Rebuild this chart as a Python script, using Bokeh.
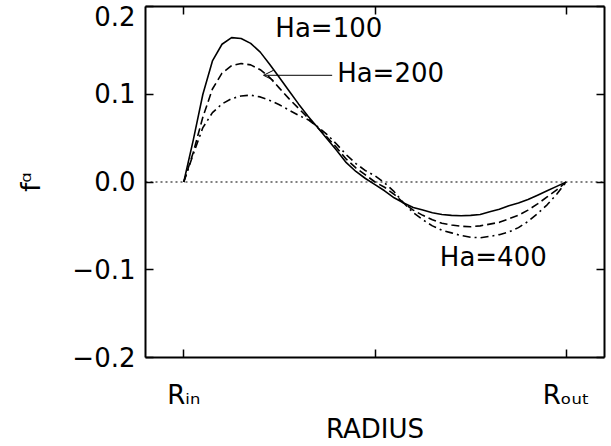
from bokeh.plotting import figure
from bokeh.models import Range1d, LinearAxis, FixedTicker, Span, Label, Arrow, OpenHead
from bokeh.embed import file_html
from bokeh.resources import INLINE

# ---- data ----
radius = [0.00, 0.05, 0.10, 0.15, 0.20, 0.25, 0.30, 0.35, 0.40, 0.45,
          0.50, 0.55, 0.60, 0.65, 0.70, 0.75, 0.80, 0.85, 0.90, 0.95,
          1.00, 1.05, 1.10, 1.15, 1.20, 1.25, 1.30, 1.35, 1.40, 1.45,
          1.50, 1.55, 1.60, 1.65, 1.70, 1.75, 1.80, 1.85, 1.90, 1.95, 2.00]

f_ha100 = [0.000, 0.048, 0.100, 0.138, 0.157, 0.1645, 0.1635, 0.158, 0.148, 0.134,
           0.119, 0.104, 0.089, 0.075, 0.062, 0.049, 0.036, 0.022, 0.012, 0.004,
           -0.003, -0.010, -0.018, -0.024, -0.029, -0.032, -0.035, -0.037, -0.038, -0.0385,
           -0.038, -0.037, -0.034, -0.031, -0.027, -0.024, -0.020, -0.015, -0.010, -0.005, 0.000]

f_ha200 = [0.000, 0.034, 0.074, 0.106, 0.124, 0.1325, 0.135, 0.1335, 0.128, 0.119,
           0.107, 0.095, 0.084, 0.073, 0.062, 0.051, 0.039, 0.026, 0.016, 0.008,
           0.000, -0.006, -0.014, -0.024, -0.032, -0.038, -0.043, -0.047, -0.049, -0.0505,
           -0.051, -0.050, -0.048, -0.046, -0.042, -0.038, -0.032, -0.025, -0.017, -0.009, 0.000]

f_ha400 = [0.000, 0.032, 0.062, 0.079, 0.089, 0.095, 0.098, 0.099, 0.097, 0.093,
           0.088, 0.082, 0.076, 0.071, 0.063, 0.054, 0.043, 0.031, 0.021, 0.013,
           0.007, -0.001, -0.011, -0.024, -0.035, -0.043, -0.050, -0.055, -0.058, -0.061,
           -0.063, -0.0635, -0.062, -0.060, -0.057, -0.052, -0.045, -0.036, -0.026, -0.014, 0.000]

x_ticks = [0, 1, 2]
x_tick_labels = ["R\u1d62\u2099", "", "R\u2092\u1d64\u209c"]
y_ticks = [-0.2, -0.1, 0.0, 0.1, 0.2]
y_tick_labels = ["\u22120.2", "\u22120.1", "0.0", "0.1", "0.2"]

FONT = "DejaVu Sans"
FS = "26px"

p = figure(width=611, height=446, x_range=Range1d(-0.2, 2.2), y_range=Range1d(-0.2, 0.2),
           output_backend="svg", toolbar_location=None,
           min_border_left=145, min_border_right=7, min_border_top=6, min_border_bottom=88,
           x_axis_label="RADIUS", y_axis_label="f\u1d45")
p.grid.visible = False
p.outline_line_color = None
p.background_fill_color = "white"
p.border_fill_color = "white"

# bottom axis
xa = p.xaxis[0]
xa.ticker = FixedTicker(ticks=x_ticks)
xa.major_label_overrides = {t: lab for t, lab in zip(x_ticks, x_tick_labels)}
# left axis; the top label is pushed below its tick so that it stays on the page
ya = p.yaxis[0]
ya.ticker = FixedTicker(ticks=y_ticks)
ya.major_label_overrides = {t: ("\n" + lab if t == y_ticks[-1] else lab)
                            for t, lab in zip(y_ticks, y_tick_labels)}
ya.major_label_text_line_height = 0.05

for ax in (xa, ya):
    ax.major_tick_in = 8
    ax.major_tick_out = 0
    ax.minor_tick_line_color = None
    ax.axis_line_width = 2
    ax.major_tick_line_width = 1.5
    ax.major_label_text_font = FONT
    ax.major_label_text_font_size = FS
    ax.major_label_text_color = "black"
    ax.axis_label_text_font = FONT
    ax.axis_label_text_font_size = FS
    ax.axis_label_text_font_style = "normal"
    ax.axis_label_text_color = "black"
ya.major_label_standoff = 10
ya.axis_label_standoff = 23
xa.major_label_standoff = 22
xa.axis_label_standoff = 1

# top and right axes: ticks only
top = LinearAxis(ticker=FixedTicker(ticks=x_ticks), major_label_overrides={t: "" for t in x_ticks})
right = LinearAxis(ticker=FixedTicker(ticks=y_ticks), major_label_overrides={t: "" for t in y_ticks})
for ax in (top, right):
    ax.major_tick_in = 8
    ax.major_tick_out = 0
    ax.minor_tick_line_color = None
    ax.axis_line_width = 2
    ax.major_tick_line_width = 1.5
    ax.major_label_standoff = 0
    ax.major_label_text_font_size = "0px"
p.add_layout(top, "above")
p.add_layout(right, "right")

# zero line
p.add_layout(Span(location=0, dimension="width", line_color="black", line_width=1.2, line_dash="2 3"))

# curves
p.line(radius, f_ha100, line_color="black", line_width=1.6, line_join="round")
p.line(radius, f_ha200, line_color="black", line_width=1.6, line_dash="8 4", line_join="round")
p.line(radius, f_ha400, line_color="black", line_width=1.6, line_dash="8 4 2 4", line_join="round")

# annotations
for x, y, txt in [(0.479, 0.175, "Ha=100"), (0.802, 0.124, "Ha=200"), (1.339, -0.086, "Ha=400")]:
    p.add_layout(Label(x=x, y=y, text=txt, text_baseline="middle", text_color="black",
                       text_font=FONT, text_font_size=FS))
p.add_layout(Arrow(end=OpenHead(size=10, line_width=1, line_color="black"), x_start=0.776, y_start=0.1216,
                   x_end=0.417, y_end=0.1216, line_width=1, line_color="black"))

open("out.html", "w").write(file_html(p, INLINE))
